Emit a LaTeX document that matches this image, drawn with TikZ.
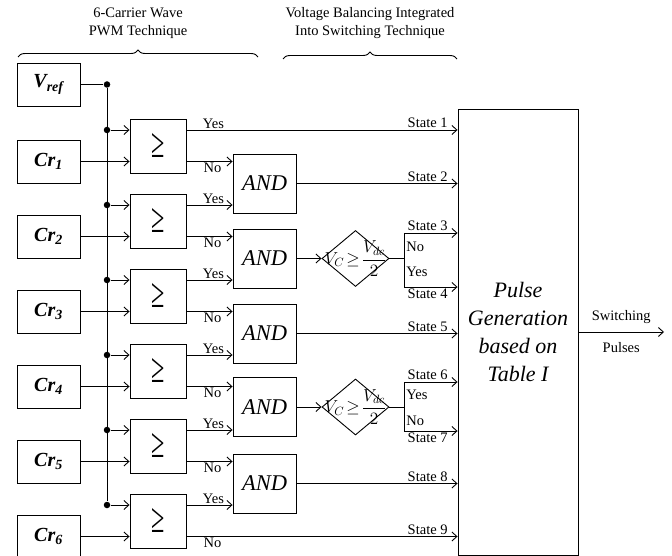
\documentclass[tikz,border=0pt]{standalone}
\usepackage{fontspec}
\setmainfont{Liberation Serif}
\usepackage{amsmath}
\usetikzlibrary{arrows.meta,positioning,calc,shapes.geometric,decorations.pathreplacing}

\newcommand{\gesym}{\scalebox{1.1}[1.9]{\fontsize{22}{22}\selectfont ≥}}
\newcommand{\vcheck}{\scalebox{1.2}{$V_C\!\geq\!\dfrac{V_{dc}}{2}$}}

\begin{document}
\begin{tikzpicture}[x=1pt, y=-1pt, line width=0.9pt,
      font=\fontsize{14.5}{17}\selectfont, >={Straight Barb[length=5pt,width=9pt]},
      sbox/.style={draw, minimum width=63pt, minimum height=43pt, inner sep=0pt,
                   font=\fontsize{20}{20}\selectfont\bfseries\itshape},
      cmp/.style={draw, minimum width=56pt, minimum height=54pt, inner sep=0pt},
      andbox/.style={draw, minimum width=63pt, minimum height=59pt, inner sep=0pt,
                     font=\fontsize{22.5}{24}\selectfont\itshape},
      dm/.style={draw, diamond, minimum width=67pt, minimum height=56pt, inner sep=0pt},
      ar/.style={->},
      jdot/.style={circle, fill, inner sep=0pt, minimum size=6.5pt},
      ylab/.style={above, inner sep=1pt},
      nlab/.style={below, inner sep=1pt},
      st/.style={above left, inner sep=1.5pt, xshift=-8pt},
      stb/.style={below left, inner sep=1.5pt, xshift=-8pt},
      ttl/.style={align=center, font=\fontsize{14.5}{18}\selectfont}]
    \useasboundingbox (0,0) rectangle (672,556);
    % --- titles and braces ---
    \node[ttl] (t1) at (138,23) {6-Carrier Wave\\PWM Technique};
    \node[ttl] (t2) at (370,23) {Voltage Balancing Integrated\\Into Switching Technique};
    \draw[decorate, decoration={brace, amplitude=7pt}] (18,57) -- (258,57);
    \draw[decorate, decoration={brace, amplitude=7pt}] (283,59) -- (457,59);
    % --- reference and carriers ---
    \node[sbox] (vref) at (48.5,84.5) {V\textsubscript{ref}};
    \node[sbox] (cr1) at (48.5,161.5) {Cr\textsubscript{1}};
    \node[sbox] (cr2) at (48.5,236.5) {Cr\textsubscript{2}};
    \node[sbox] (cr3) at (48.5,311.5) {Cr\textsubscript{3}};
    \node[sbox] (cr4) at (48.5,386.5) {Cr\textsubscript{4}};
    \node[sbox] (cr5) at (48.5,461.5) {Cr\textsubscript{5}};
    \node[sbox] (cr6) at (48.5,536.5) {Cr\textsubscript{6}};
    % --- bus ---
    \node[jdot] (d0) at (107,84.5) {};
    \node[jdot] (d1) at (107,130) {};
    \node[jdot] (d2) at (107,205) {};
    \node[jdot] (d3) at (107,280) {};
    \node[jdot] (d4) at (107,355) {};
    \node[jdot] (d5) at (107,430) {};
    \node[jdot] (d6) at (107,505) {};
    \draw (vref) -- (d0);
    \draw (d0) -- (d6);
    % --- comparators ---
    \node[cmp] (c1) at (158,146) {\gesym};
    \node[cmp] (c2) at (158,221) {\gesym};
    \node[cmp] (c3) at (158,296) {\gesym};
    \node[cmp] (c4) at (158,371) {\gesym};
    \node[cmp] (c5) at (158,446) {\gesym};
    \node[cmp] (c6) at (158,521) {\gesym};
    \draw[ar] (d1) -- (d1 -| c1.west);  \draw[ar] (cr1) -- (cr1 -| c1.west);
    \draw[ar] (d2) -- (d2 -| c2.west);  \draw[ar] (cr2) -- (cr2 -| c2.west);
    \draw[ar] (d3) -- (d3 -| c3.west);  \draw[ar] (cr3) -- (cr3 -| c3.west);
    \draw[ar] (d4) -- (d4 -| c4.west);  \draw[ar] (cr4) -- (cr4 -| c4.west);
    \draw[ar] (d5) -- (d5 -| c5.west);  \draw[ar] (cr5) -- (cr5 -| c5.west);
    \draw[ar] (d6) -- (d6 -| c6.west);  \draw[ar] (cr6) -- (cr6 -| c6.west);
    % --- AND gates ---
    \node[andbox] (a1) at (264.5,183.5) {AND};
    \node[andbox] (a2) at (264.5,258.5) {AND};
    \node[andbox] (a3) at (264.5,333.5) {AND};
    \node[andbox] (a4) at (264.5,407) {AND};
    \node[andbox] (a5) at (264.5,483.5) {AND};
    % --- pulse generation ---
    \node[draw, minimum width=120pt, minimum height=446pt, inner sep=0pt, align=center,
          font=\fontsize{22}{28}\selectfont\itshape] (pg) at (518,332)
          {Pulse\\Generation\\based on\\Table I};
    % comparator outputs
    \draw[ar] (d1 -| c1.east) -- (d1 -| pg.west) node[st] {State 1};
    \draw[ar] (cr1 -| c1.east) -- (cr1 -| a1.west);
    \draw[ar] (d2 -| c2.east) -- (d2 -| a1.west);
    \draw[ar] (cr2 -| c2.east) -- (cr2 -| a2.west);
    \draw[ar] (d3 -| c3.east) -- (d3 -| a2.west);
    \draw[ar] (cr3 -| c3.east) -- (cr3 -| a3.west);
    \draw[ar] (d4 -| c4.east) -- (d4 -| a3.west);
    \draw[ar] (cr4 -| c4.east) -- (cr4 -| a4.west);
    \draw[ar] (d5 -| c5.east) -- (d5 -| a4.west);
    \draw[ar] (cr5 -| c5.east) -- (cr5 -| a5.west);
    \draw[ar] (d6 -| c6.east) -- (d6 -| a5.west);
    \draw[ar] (cr6 -| c6.east) -- (cr6 -| pg.west) node[st] {State 9};
    \node[ylab] at ($(d1 -| c1.east)+(27,0)$) {Yes};  \node[nlab] at ($(cr1 -| c1.east)+(26,0)$) {No};
    \node[ylab] at ($(d2 -| c2.east)+(27,0)$) {Yes};  \node[nlab] at ($(cr2 -| c2.east)+(26,0)$) {No};
    \node[ylab] at ($(d3 -| c3.east)+(27,0)$) {Yes};  \node[nlab] at ($(cr3 -| c3.east)+(26,0)$) {No};
    \node[ylab] at ($(d4 -| c4.east)+(27,0)$) {Yes};  \node[nlab] at ($(cr4 -| c4.east)+(26,0)$) {No};
    \node[ylab] at ($(d5 -| c5.east)+(27,0)$) {Yes};  \node[nlab] at ($(cr5 -| c5.east)+(26,0)$) {No};
    \node[ylab] at ($(d6 -| c6.east)+(27,0)$) {Yes};  \node[nlab] at ($(cr6 -| c6.east)+(26,0)$) {No};
    % AND outputs
    \draw[ar] (a1) -- (a1 -| pg.west) node[st] {State 2};
    \draw[ar] (a3) -- (a3 -| pg.west) node[st] {State 5};
    \draw[ar] (a5) -- (a5 -| pg.west) node[st] {State 8};
    % --- capacitor voltage checks ---
    \node[dm, label={center:\vcheck}] (dm1) at (355.5,258.5) {};
    \node[dm, label={center:\vcheck}] (dm2) at (355.5,407) {};
    \draw[ar] (a2) -- (dm1);
    \draw[ar] (a4) -- (dm2);
    \coordinate (b3) at (404,233);
    \coordinate (b4) at (404,287);
    \coordinate (b6) at (404,382);
    \coordinate (b7) at (404,431);
    \draw (dm1.east) -- (dm1.east -| b3);
    \draw (b3) -- (b4);
    \draw (dm2.east) -- (dm2.east -| b6);
    \draw (b6) -- (b7);
    \draw[ar] (b3) -- (b3 -| pg.west) node[st] {State 3};
    \draw[ar] (b4) -- (b4 -| pg.west) node[stb] {State 4};
    \draw[ar] (b6) -- (b6 -| pg.west) node[st] {State 6};
    \draw[ar] (b7) -- (b7 -| pg.west) node[stb] {State 7};
    \node[right, inner sep=1pt] at (405,247) {No};
    \node[right, inner sep=1pt] at (405,272) {Yes};
    \node[right, inner sep=1pt] at (405,395) {Yes};
    \node[right, inner sep=1pt] at (405,421) {No};
    % --- output ---
    \coordinate (sw) at (664,332);
    \draw[ar] (pg) -- (sw) node[midway, above=5pt] {Switching} node[midway, below=7pt] {Pulses};
\end{tikzpicture}
\end{document}
